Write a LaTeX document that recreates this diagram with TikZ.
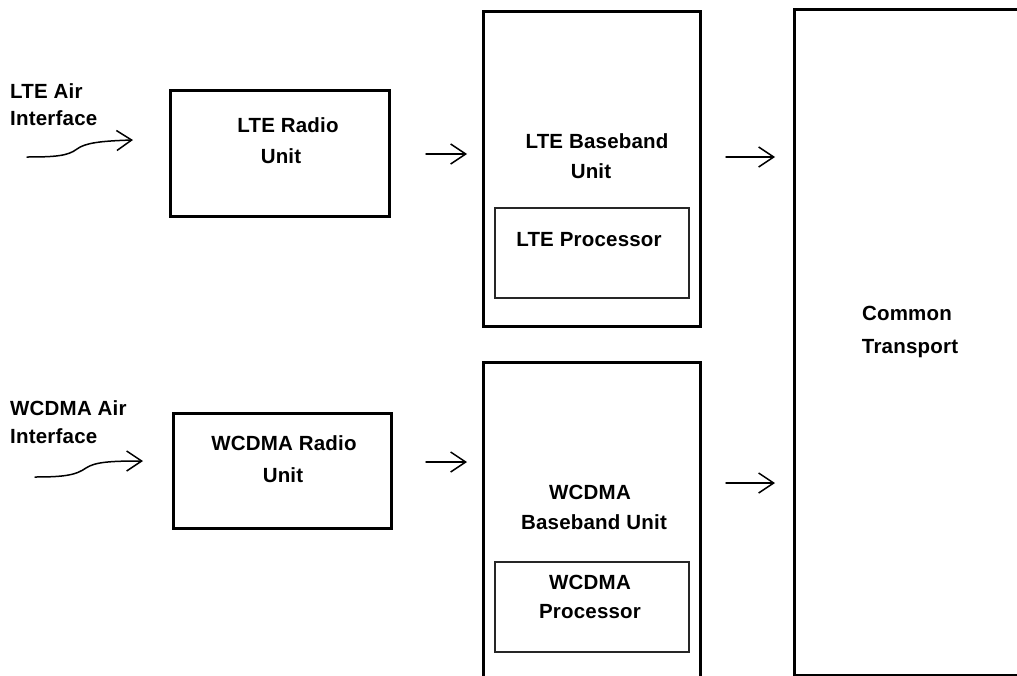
\documentclass[tikz,border=0pt]{standalone}
\usepackage{fontspec}
\setmainfont{Liberation Sans}[LetterSpace=1]
\usetikzlibrary{arrows.meta}
\begin{document}
\begin{tikzpicture}[x=1pt,y=-1pt,
  box/.style={draw=black, line width=3pt, anchor=north west, inner sep=0pt, outer sep=0pt},
  inbox/.style={draw=black!85, line width=1.4pt, anchor=north west, inner sep=0pt, outer sep=0pt},
  lbl/.style={font=\fontsize{20.5}{24}\selectfont\bfseries, inner sep=0pt, anchor=base},
  lbll/.style={lbl, anchor=base west},
  flow/.style={line width=1.5pt, line cap=round, -{Straight Barb[length=15pt,width=20pt,line width=1.5pt]}}]
\useasboundingbox (0,0) rectangle (1017,675);
\clip (0,0) rectangle (1017,675);

% blocks
\node[box, minimum width=219pt, minimum height=126pt] (lteru) at (170,90) {};
\node[box, minimum width=217pt, minimum height=315pt] (ltebb) at (483,11) {};
\node[inbox, minimum width=194pt, minimum height=90pt] (ltepr) at (495,208) {};
\node[box, minimum width=218pt, minimum height=115pt] (wru) at (173,413) {};
\node[box, minimum width=217pt, minimum height=340pt] (wbb) at (483,362) {};
\node[inbox, minimum width=194pt, minimum height=90pt] (wpr) at (495,562) {};
\node[box, minimum width=260pt, minimum height=666pt] (ct) at (794,9) {};

% labels
\node[lbll] (lteair1) at (10,98) {LTE Air};
\node[lbll] (lteair2) at (10,125) {Interface};
\node[lbll] (wair1) at (10,415) {WCDMA Air};
\node[lbll] (wair2) at (10,443) {Interface};

\node[lbl] (lteru1) at (288,132) {LTE Radio};
\node[lbl] (lteru2) at (281,163) {Unit};
\node[lbl] (ltebb1) at (597,148) {LTE Baseband};
\node[lbl] (ltebb2) at (591,178) {Unit};
\node[lbl] (ltepr1) at (589,246) {LTE Processor};

\node[lbl] (wru1) at (284,450) {WCDMA Radio};
\node[lbl] (wru2) at (283,482) {Unit};
\node[lbl] (wbb1) at (590,499) {WCDMA};
\node[lbl] (wbb2) at (594,529) {Baseband Unit};
\node[lbl] (wpr1) at (590,589) {WCDMA};
\node[lbl] (wpr2) at (590,618) {Processor};

\node[lbl] (ct1) at (907,320) {Common};
\node[lbl] (ct2) at (910,353) {Transport};

% air interface inputs
\coordinate (ltein) at (27,157);
\coordinate (lteinend) at (133,140);
\coordinate (win) at (35,477);
\coordinate (winend) at (143,461);
\draw[flow] (ltein) .. controls (55,157) and (68,156) .. (77,149)
  .. controls (85,143) and (100,141) .. (lteinend);
\draw[flow] (win) .. controls (65,477) and (76,475) .. (86,468)
  .. controls (95,462) and (110,461) .. (winend);

% signal flow between blocks
\coordinate (f1a) at (426,154); \coordinate (f1b) at (467,154);
\coordinate (f2a) at (726,157); \coordinate (f2b) at (775,157);
\coordinate (f3a) at (426,462); \coordinate (f3b) at (467,462);
\coordinate (f4a) at (726,483); \coordinate (f4b) at (775,483);
\draw[flow] (f1a) -- (f1b);
\draw[flow] (f2a) -- (f2b);
\draw[flow] (f3a) -- (f3b);
\draw[flow] (f4a) -- (f4b);
\end{tikzpicture}
\end{document}
